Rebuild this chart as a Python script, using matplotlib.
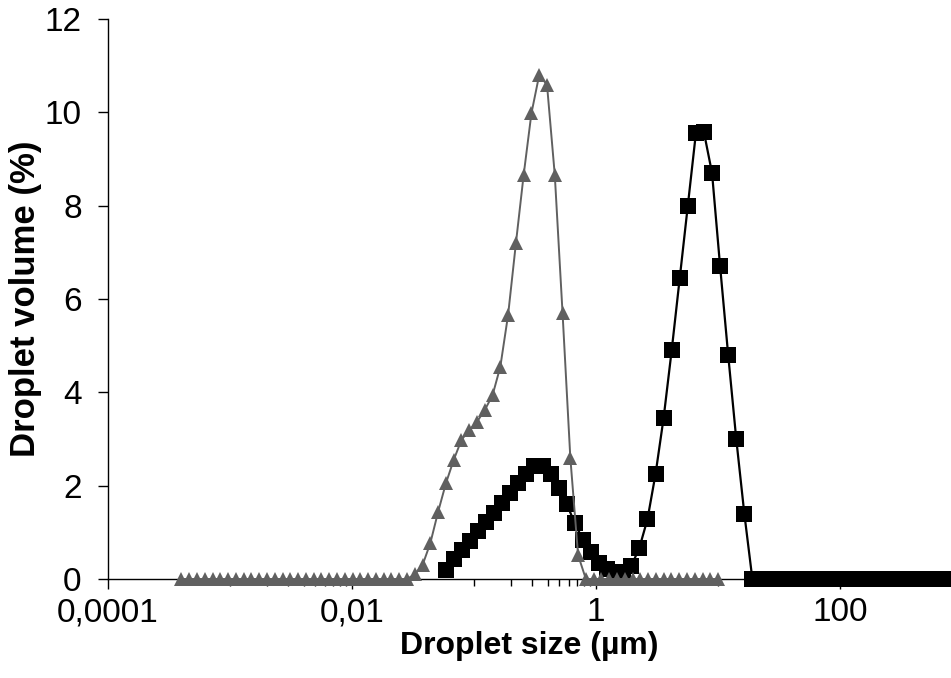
import matplotlib
matplotlib.use("Agg")
import matplotlib.pyplot as plt
from matplotlib.ticker import FixedLocator, NullFormatter

plt.rcParams['font.family'] = ['Liberation Sans', 'DejaVu Sans']

# DLS size classes (um) and volume (%) - gray triangles
dls_size = [0.0004, 0.0004632, 0.0005365, 0.0006213, 0.0007195, 0.0008332, 0.0009649,
            0.001117, 0.001294, 0.001499, 0.001736, 0.00201, 0.002328, 0.002696,
            0.003122, 0.003615, 0.004187, 0.004849, 0.005615, 0.006503, 0.007531,
            0.008721, 0.0101, 0.0117, 0.01354, 0.01569, 0.01817, 0.02104, 0.02436,
            0.02821, 0.03267, 0.03784, 0.04382, 0.05075, 0.05877, 0.06806, 0.07882,
            0.09128, 0.1057, 0.1224, 0.1418, 0.1642, 0.1901, 0.2202, 0.255, 0.2953,
            0.342, 0.3961, 0.4587, 0.5312, 0.6151, 0.7124, 0.825, 0.9554, 1.106,
            1.281, 1.484, 1.718, 1.99, 2.305, 2.669, 3.091, 3.58, 4.145, 4.801,
            5.56, 6.439, 7.456, 8.635, 10.0]
dls_volume = [0, 0, 0, 0, 0, 0, 0, 0, 0, 0, 0, 0, 0, 0, 0, 0, 0, 0, 0, 0,
              0, 0, 0, 0, 0, 0, 0, 0, 0, 0, 0.1, 0.3, 0.77, 1.44, 2.05, 2.55, 2.98,
              3.19, 3.37, 3.62, 3.94, 4.55, 5.66, 7.19, 8.66, 9.98, 10.8, 10.59,
              8.66, 5.7, 2.6, 0.51, 0, 0, 0, 0, 0, 0, 0, 0, 0, 0, 0, 0, 0, 0, 0,
              0, 0, 0]

# laser diffraction size classes (um) and volume (%) - black squares
ld_size = [0.0586, 0.0682, 0.0794, 0.0924, 0.1077, 0.1254, 0.146, 0.17, 0.198,
           0.2306, 0.2685, 0.3127, 0.3641, 0.424, 0.4938, 0.575, 0.6696, 0.7798,
           0.9082, 1.058, 1.232, 1.434, 1.67, 1.945, 2.265, 2.638, 3.072, 3.577,
           4.166, 4.851, 5.649, 6.578, 7.661, 8.922, 10.39, 12.1, 14.09, 16.41,
           19.1, 22.25, 25.91, 30.17, 35.14, 40.92, 47.65, 55.49, 64.62, 75.24,
           87.62, 102.0, 118.9, 138.4, 161.2, 187.7, 218.6, 254.5, 296.4, 345.1,
           401.9, 468.1, 545.1, 634.7, 739.2, 860.8, 1002.0]
ld_volume = [0.2, 0.42, 0.62, 0.82, 1.02, 1.22, 1.42, 1.62, 1.85, 2.05, 2.25,
             2.42, 2.42, 2.25, 1.95, 1.6, 1.2, 0.84, 0.57, 0.35, 0.22, 0.15,
             0.15, 0.28, 0.67, 1.28, 2.25, 3.45, 4.9, 6.45, 8.0, 9.55, 9.57,
             8.7, 6.7, 4.8, 3.0, 1.4, 0, 0, 0, 0, 0, 0, 0, 0, 0, 0, 0, 0, 0,
             0, 0, 0, 0, 0, 0, 0, 0, 0, 0, 0, 0, 0, 0]

x_ticks = [0.0001, 0.01, 1, 100]
x_labels = ['0,0001', '0,01', '1', '100']
x_minor = [0.001, 0.002, 0.003, 0.004, 0.005, 0.006, 0.007, 0.008, 0.009,
           0.1, 0.2, 0.3, 0.4, 0.5, 0.6, 0.7, 0.8, 0.9,
           10, 20, 30, 40, 50, 60, 70, 80, 90]
y_ticks = [0, 2, 4, 6, 8, 10, 12]

fig = plt.figure(figsize=(9.51, 6.78), dpi=100)
ax = fig.add_axes([0.1136, 0.146, 0.8864, 0.826])

ax.plot(ld_size, ld_volume, color='black', lw=1.6, marker='s',
        markersize=11, markeredgewidth=0, clip_on=False, zorder=3)
ax.plot(dls_size, dls_volume, color='#606060', lw=1.4, marker='^',
        markersize=10, markeredgewidth=0, clip_on=False, zorder=4)

ax.set_xscale('log')
ax.set_xlim(0.0001, 811)
ax.set_ylim(0, 12)

ax.xaxis.set_major_locator(FixedLocator(x_ticks))
ax.set_xticklabels(x_labels)
ax.xaxis.set_minor_locator(FixedLocator(x_minor))
ax.xaxis.set_minor_formatter(NullFormatter())
ax.set_yticks(y_ticks)

ax.tick_params(axis='both', which='major', direction='out', length=7,
               width=1, labelsize=24, colors='black')
ax.tick_params(axis='y', which='major', pad=12)
ax.tick_params(axis='x', which='major', pad=6)
ax.tick_params(axis='x', which='minor', direction='out', length=5, width=1)

for side in ['top', 'right']:
    ax.spines[side].set_visible(False)
for side in ['left', 'bottom']:
    ax.spines[side].set_linewidth(1)
    ax.spines[side].set_color('black')

ax.set_xlabel('Droplet size (µm)', fontsize=23, fontweight='bold', labelpad=2)
ax.set_ylabel('Droplet volume (%)', fontsize=25, fontweight='bold', labelpad=2)

fig.savefig('out.png', dpi=100)
